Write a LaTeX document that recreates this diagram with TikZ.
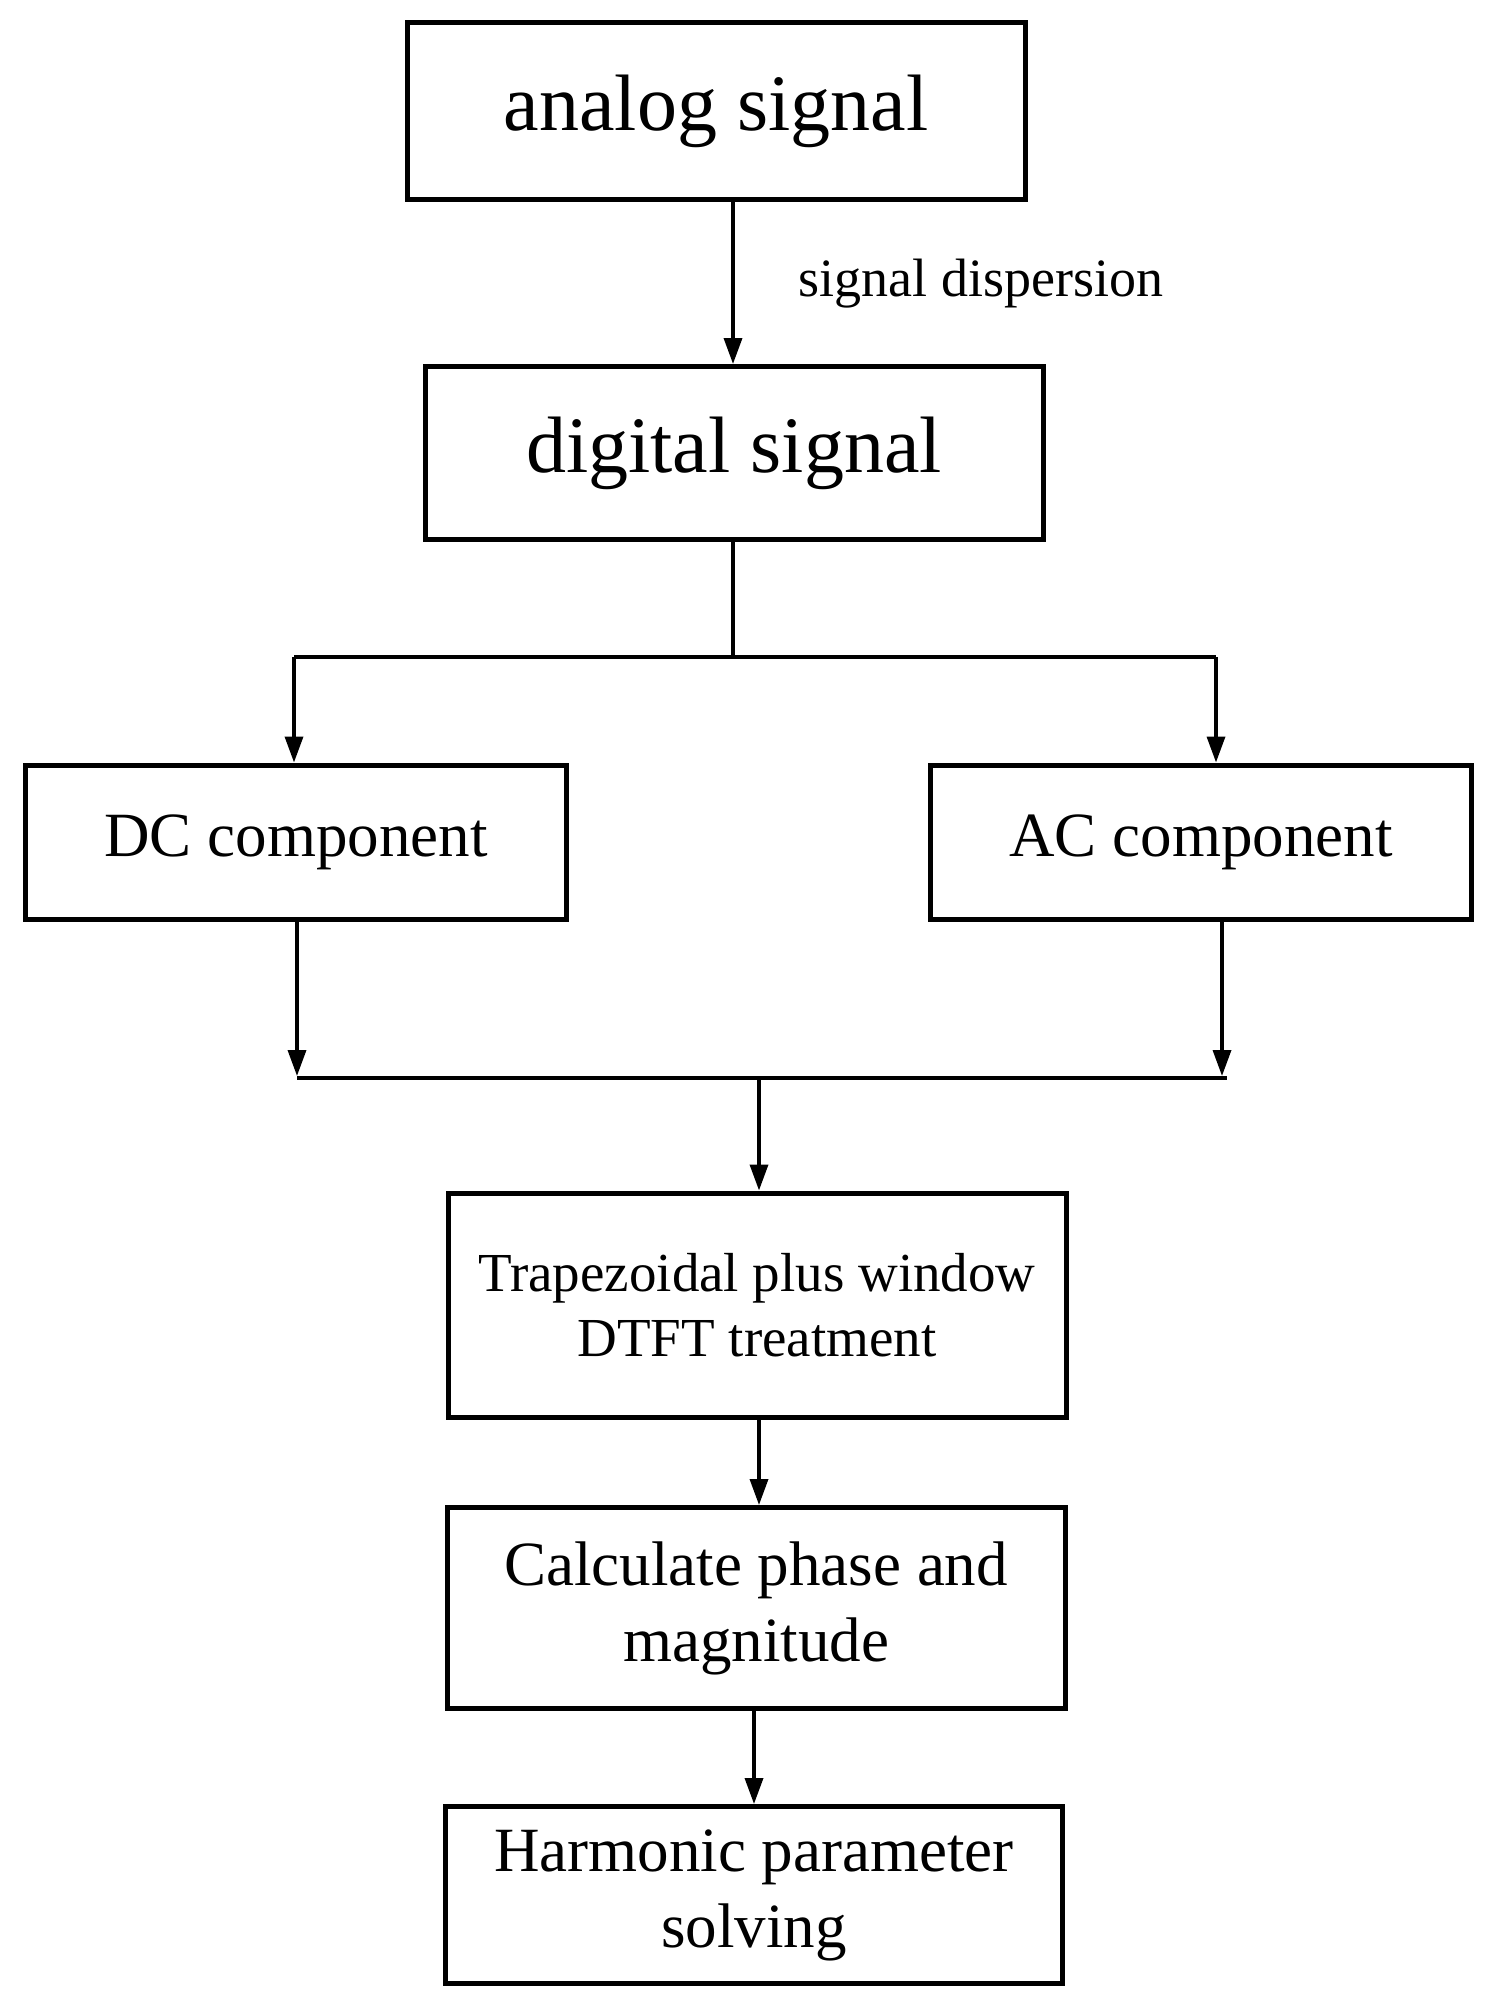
\documentclass[tikz,border=0pt]{standalone}
\usepackage{fontspec}
\setmainfont{Liberation Serif}
\usetikzlibrary{arrows.meta}
\begin{document}
\begin{tikzpicture}[x=1pt,y=-1pt,
 box/.style={draw,line width=5pt,inner sep=0pt,align=center},
 arr/.style={line width=3.5pt,-{Triangle[length=26pt,width=18pt]}},
 ln/.style={line width=3.5pt}]
\useasboundingbox (0,0) rectangle (1491,2001);
\node[box,minimum width=618pt,minimum height=177pt,font=\fontsize{80}{90}\selectfont] (an) at (716,111) {analog signal};
\node[box,minimum width=618pt,minimum height=173pt,font=\fontsize{80}{90}\selectfont] (di) at (734,453) {digital signal};
\node[font=\fontsize{54}{60}\selectfont,anchor=west] (sd) at (795,284) {signal dispersion};
\node[box,minimum width=541pt,minimum height=154pt,font=\fontsize{63}{70}\selectfont] (dc) at (296,842) {DC component};
\node[box,minimum width=541pt,minimum height=154pt,font=\fontsize{63}{70}\selectfont] (ac) at (1201,842) {AC component};
\node[box,minimum width=618pt,minimum height=224pt,font=\fontsize{55}{65}\selectfont] (tr) at (757,1305) {Trapezoidal plus window\\DTFT treatment};
\node[box,minimum width=618pt,minimum height=201pt,font=\fontsize{63}{76}\selectfont] (ca) at (756,1608) {Calculate phase and\\magnitude};
\node[box,minimum width=617pt,minimum height=177pt,font=\fontsize{63}{76}\selectfont] (ha) at (754,1895) {Harmonic parameter\\solving};
\coordinate (j1) at (733,657);
\coordinate (jl) at (294,657);
\coordinate (jr) at (1216,657);
\coordinate (ml) at (297,1078);
\coordinate (mr) at (1227,1078);
\coordinate (mm) at (759,1078);
\coordinate (al) at (297,1076);
\coordinate (ar) at (1222,1076);
\draw[arr] (an.south -| j1) -- (di.north -| j1);
\draw[ln] (di.south -| j1) -- (j1);
\draw[ln] (jl) -- (jr);
\draw[arr] (jl) -- (dc.north -| jl);
\draw[arr] (jr) -- (ac.north -| jr);
\draw[arr] (dc.south -| al) -- (al);
\draw[arr] (ac.south -| ar) -- (ar);
\draw[ln] (ml) -- (mr);
\draw[arr] (mm) -- (tr.north -| mm);
\draw[arr] (tr.south -| mm) -- (ca.north -| mm);
\draw[arr] (ca.south -| ha.north) -- (ha.north);
\end{tikzpicture}
\end{document}
